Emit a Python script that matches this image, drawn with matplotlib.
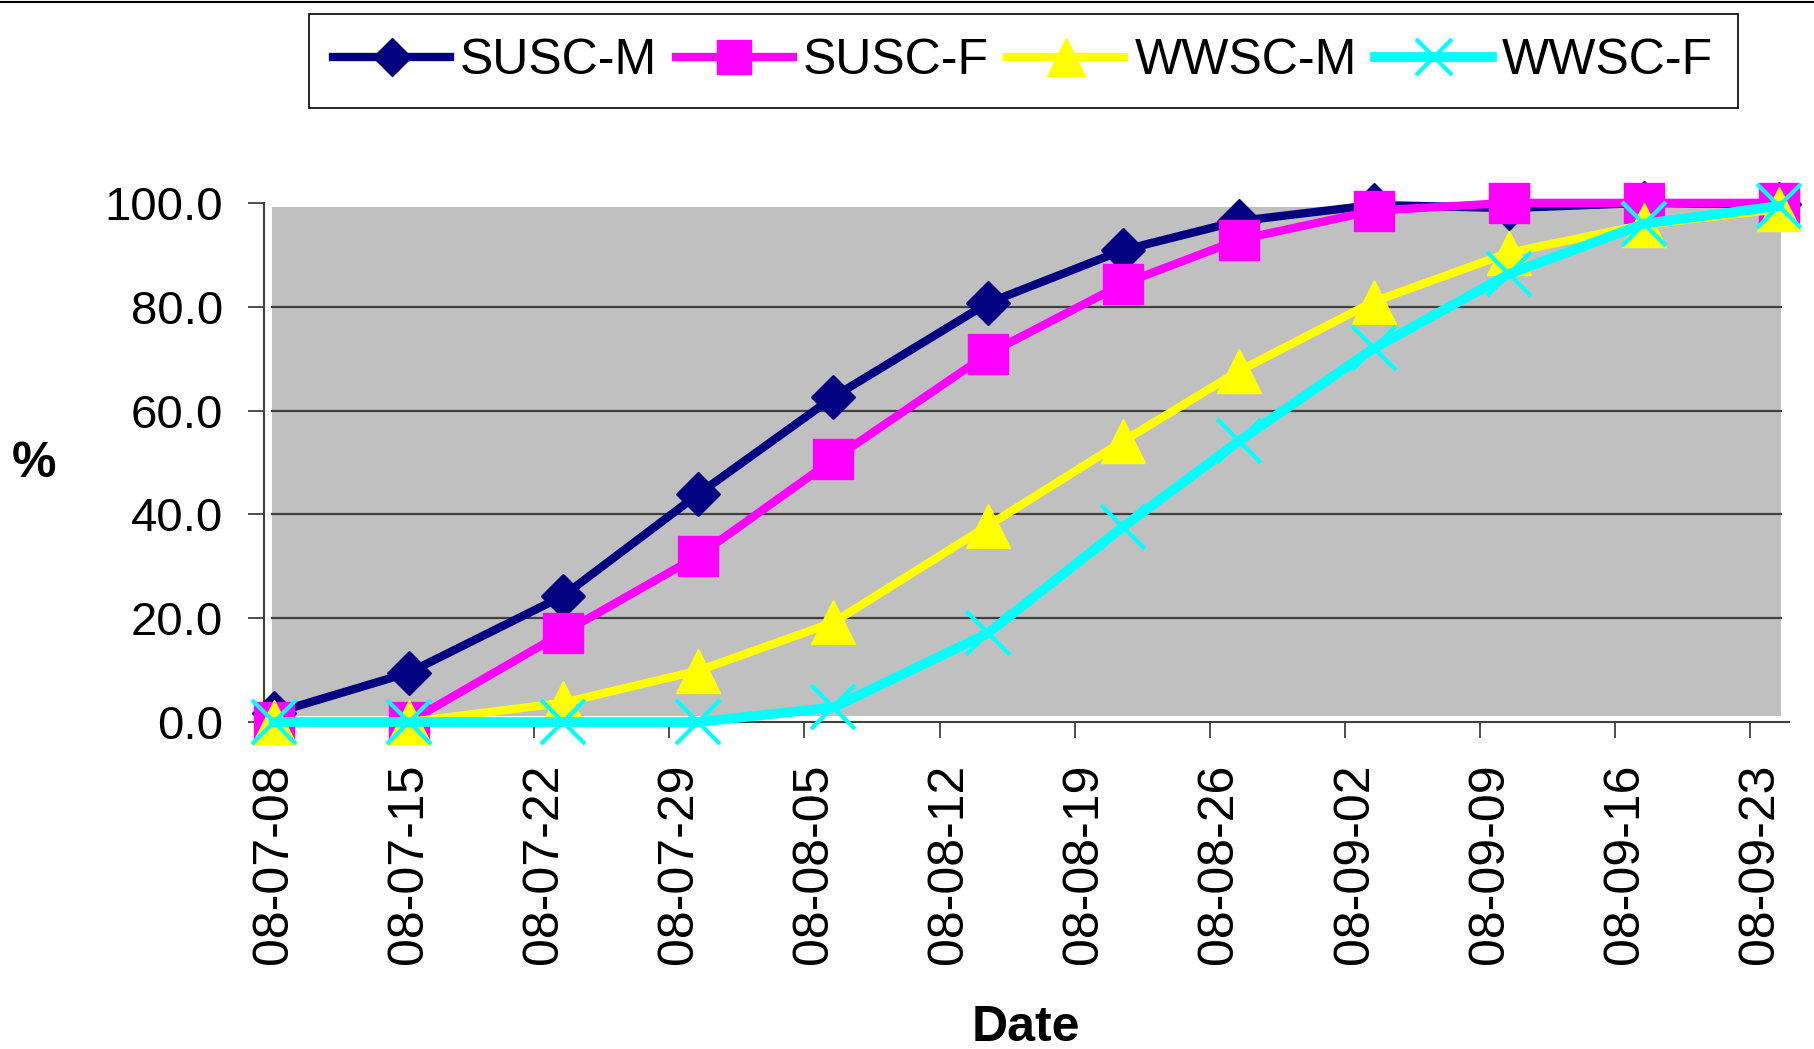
import numpy as np
import matplotlib
matplotlib.use("Agg")
import matplotlib.pyplot as plt
import matplotlib.dates as mdates
from matplotlib.patches import Rectangle
from matplotlib.lines import Line2D

plt.rcParams['font.family'] = ['Liberation Sans', 'DejaVu Sans']

# dates de mesure (aa-mm-jj -> 2008)
dates = np.array(['2008-07-08', '2008-07-15', '2008-07-23', '2008-07-30',
                  '2008-08-06', '2008-08-14', '2008-08-21', '2008-08-27',
                  '2008-09-03', '2008-09-10', '2008-09-17', '2008-09-24'],
                 dtype='datetime64[D]')

susc_m = [1.7, 9.5, 24.3, 43.9, 62.6, 80.7, 90.9, 96.5, 99.6, 99.0, 100.0, 99.7]
susc_f = [0.0, 0.0, 17.2, 32.0, 50.6, 70.9, 84.4, 92.9, 98.5, 100.0, 100.0, 100.0]
wwsc_m = [0.0, 0.0, 3.7, 9.9, 19.2, 37.8, 54.1, 67.6, 81.0, 90.4, 95.8, 98.8]
wwsc_f = [0.0, 0.0, 0.0, 0.0, 2.8, 17.1, 37.6, 54.1, 72.0, 86.3, 96.0, 99.4]

tick_dates = np.arange(np.datetime64('2008-07-08'), np.datetime64('2008-09-24'),
                       np.timedelta64(7, 'D'))
tick_labels = ['08-07-08', '08-07-15', '08-07-22', '08-07-29', '08-08-05',
               '08-08-12', '08-08-19', '08-08-26', '08-09-02', '08-09-09',
               '08-09-16', '08-09-23']
y_ticks = [0, 20, 40, 60, 80, 100]
y_grid = [20, 40, 60, 80]

x = mdates.date2num(dates)
xt = mdates.date2num(tick_dates)

fig = plt.figure(figsize=(18.14, 10.49), dpi=100)
ax = fig.add_axes([0.1455, 0.3117, 0.8407, 0.4949])
ax.set_facecolor('none')

# fond gris de la zone de tracé
ax.add_patch(Rectangle((0.005, 0.012), 0.99, 0.98, transform=ax.transAxes,
                       facecolor='#c0c0c0', edgecolor='none', zorder=0))
for g in y_grid:
    ax.axhline(g, xmin=0.005, xmax=0.995, color='#404040', lw=1.6, zorder=1)

ax.plot(x, susc_m, color='#000080', lw=6, marker='D', ms=22.5,
        label='SUSC-M', clip_on=False, zorder=3)
ax.plot(x, susc_f, color='#ff00ff', lw=6, marker='s', ms=29.5,
        label='SUSC-F', clip_on=False, zorder=4)
ax.plot(x, wwsc_m, color='#ffff00', lw=6, marker='^', ms=32,
        label='WWSC-M', clip_on=False, zorder=5)
ax.plot(x, wwsc_f, color='#00ffff', lw=7, marker='x', ms=31, mew=3,
        label='WWSC-F', clip_on=False, zorder=6)

ax.set_xlim(xt[0] - 0.5, x[-1] + 0.5)
ax.set_ylim(0, 100)

ax.set_xticks(xt)
ax.set_xticklabels(tick_labels, rotation=90, fontsize=36)
ax.set_xticks(xt - 0.5, minor=True)
ax.tick_params(axis='x', which='major', length=0, pad=30)
ax.tick_params(axis='x', which='minor', length=11.5, width=1.3, color='#404040',
               direction='out')

ax.set_yticks(y_ticks)
ax.set_yticklabels(['%.1f' % v for v in y_ticks], fontsize=34)
ax.tick_params(axis='y', length=11.5, width=1.3, color='#404040', pad=18,
               direction='out')

for s in ['top', 'right']:
    ax.spines[s].set_visible(False)
for s in ['left', 'bottom']:
    ax.spines[s].set_color('#404040')
    ax.spines[s].set_linewidth(1.5)

fig.text(34 / 1814, 1 - 464 / 1049, '%', fontsize=36, fontweight='bold',
         ha='center', va='center')
fig.text(1026 / 1814, 1 - 1041 / 1049, 'Date', fontsize=36, fontweight='bold',
         ha='center', va='baseline')

leg = fig.legend(loc='upper left', bbox_to_anchor=(309 / 1814, 1 - 14 / 1049),
                 ncol=4, fontsize=36, frameon=True, fancybox=False,
                 edgecolor='black', framealpha=1, borderpad=0.48,
                 handlelength=2.34, handletextpad=0.2, columnspacing=0.37,
                 markerscale=0.85, borderaxespad=0)
leg.get_frame().set_linewidth(1.2)

fig.add_artist(Line2D([0, 1], [1 - 1.5 / 1049, 1 - 1.5 / 1049],
                      color='black', lw=1.5, transform=fig.transFigure))

fig.savefig('out.png', dpi=100)
